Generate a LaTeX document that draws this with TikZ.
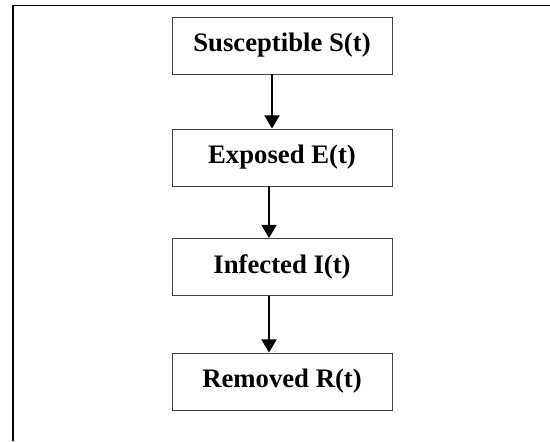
\documentclass[tikz,border=0pt]{standalone}
\usepackage{fontspec}
\setmainfont{Liberation Serif}
\usetikzlibrary{arrows.meta}

\begin{document}
\begin{tikzpicture}[
	compartment/.style={draw=black!75, line width=0.6pt, minimum width=5.5cm, minimum height=1.425cm, inner sep=0pt, font=\fontsize{19}{22}\selectfont\bfseries},
	flow/.style={line width=1.8pt, -{Triangle[length=3.3mm,width=3.7mm]}}
	]
			\useasboundingbox (0,0) rectangle (13.75,11.025);
			\draw[line width=1.4pt] (0.325,0) -- (0.325,10.8875) -- (13.75,10.8875); % Frame
			\node[compartment] (s) at (7.05,9.8875) {Susceptible S(t)}; % Box S
			\node[compartment] (e) at (7.05,7.0875) {Exposed E(t)}; % Box E
			\node[compartment] (i) at (7.05,4.35) {Infected I(t)}; % Box I
			\node[compartment] (r) at (7.05,1.4875) {Removed R(t)}; % Box R
			\draw[flow] ([xshift=-0.25cm]s.south) -- ([xshift=-0.25cm]e.north); % S to E
			\draw[flow] ([xshift=-0.325cm]e.south) -- ([xshift=-0.325cm]i.north); % E to I
			\draw[flow] ([xshift=-0.325cm]i.south) -- ([xshift=-0.325cm]r.north); % I to R
		\end{tikzpicture}
\end{document}
